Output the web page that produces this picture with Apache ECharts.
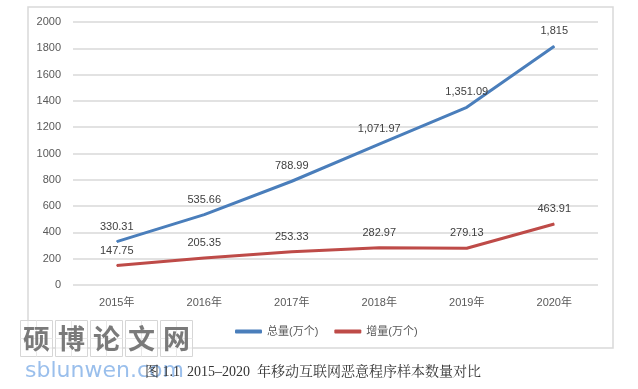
<!DOCTYPE html>
<html><head><meta charset="utf-8">
<script src="https://cdn.jsdelivr.net/npm/echarts@6/dist/echarts.min.js"></script>
<style>html,body{margin:0;padding:0;background:#fff}#c{width:638px;height:389px}</style>
</head><body><div id="c"></div>
<script>
const categories = ['2015年','2016年','2017年','2018年','2019年','2020年'];
const totalValues = [330.31, 535.66, 788.99, 1071.97, 1351.09, 1815];
const growthValues = [147.75, 205.35, 253.33, 282.97, 279.13, 463.91];
const seriesNames = ['总量(万个)', '增量(万个)'];
const yTicks = {min: 0, max: 2000, interval: 200};
const captionText = '图 1.1  2015–2020  年移动互联网恶意程序样本数量对比';
const watermarkChars = ['硕','博','论','文','网'];
const watermarkSite = 'sblunwen.com';

function fmt(v){
  return v.toLocaleString('en-US', {maximumFractionDigits: 2});
}
const chart = echarts.init(document.getElementById('c'));
const font = '"Liberation Sans", "Noto Sans CJK SC", sans-serif';
const wmGraphics = watermarkChars.map((ch, i) => ({
  type: 'group', left: 18 + i * 35, top: 318, children: [
    {type:'rect', shape:{x:0,y:0,width:32,height:36}, style:{fill:'rgba(255,255,255,0.6)', stroke:'#d6d6d6', lineWidth:1}},
    {type:'line', shape:{x1:16,y1:0,x2:16,y2:36}, style:{stroke:'#e8e8e8', lineWidth:1}},
    {type:'line', shape:{x1:0,y1:18,x2:32,y2:18}, style:{stroke:'#e8e8e8', lineWidth:1}},
    {type:'text', style:{x:16, y:18, text: ch, fill:'#7a7a7a', font:'bold 27px "Noto Sans CJK SC"', align:'center', verticalAlign:'middle'}}
  ]
}));
const labelCfg = {show: true, position: 'top', distance: 9, color: '#404040', fontSize: 11, formatter: p => fmt(p.value)};
chart.setOption({
  animation: false,
  backgroundColor: '#fff',
  textStyle: {fontFamily: font},
  grid: {left: 73, right: 40, top: 22, bottom: 104},
  legend: {
    data: seriesNames, top: 321, left: 230, itemWidth: 27, itemHeight: 4, itemGap: 16,
    icon: 'roundRect',
    textStyle: {color: '#595959', fontSize: 11, fontFamily: font}
  },
  xAxis: {
    type: 'category', data: categories, boundaryGap: true,
    axisLine: {show: false}, axisTick: {show: false},
    axisLabel: {color: '#595959', fontSize: 11, margin: 12}
  },
  yAxis: {
    type: 'value', min: yTicks.min, max: yTicks.max, interval: yTicks.interval,
    axisLine: {show: false}, axisTick: {show: false},
    axisLabel: {color: '#595959', fontSize: 11, margin: 12, formatter: v => String(v)},
    splitLine: {lineStyle: {color: '#d9d9d9', width: 1.5}}
  },
  series: [
    {name: seriesNames[0], type: 'line', data: totalValues, symbol: 'circle', symbolSize: 1, showSymbol: true,
     lineStyle: {color: '#4a7ebb', width: 3}, itemStyle: {color: '#4a7ebb'},
     label: labelCfg},
    {name: seriesNames[1], type: 'line', data: growthValues, symbol: 'circle', symbolSize: 1, showSymbol: true,
     lineStyle: {color: '#be4b48', width: 3}, itemStyle: {color: '#be4b48'},
     label: labelCfg}
  ],
  graphic: [
    {type:'rect', z: -10, shape:{x:28,y:7,width:585,height:341}, style:{fill:'none', stroke:'#d9d9d9', lineWidth:1.5}},
    ...wmGraphics,
    {type:'text', left: 145, top: 365, z: 5, style:{text: captionText, fill:'#333', font:'14px "Liberation Serif", "Noto Serif CJK SC", "Noto Sans CJK SC", serif'}},
    {type:'text', left: 25, top: 360, z: 4, style:{text: watermarkSite, fill:'rgba(120,170,230,0.75)', font:'22px "DejaVu Sans", sans-serif'}}
  ]
});
</script></body></html>
